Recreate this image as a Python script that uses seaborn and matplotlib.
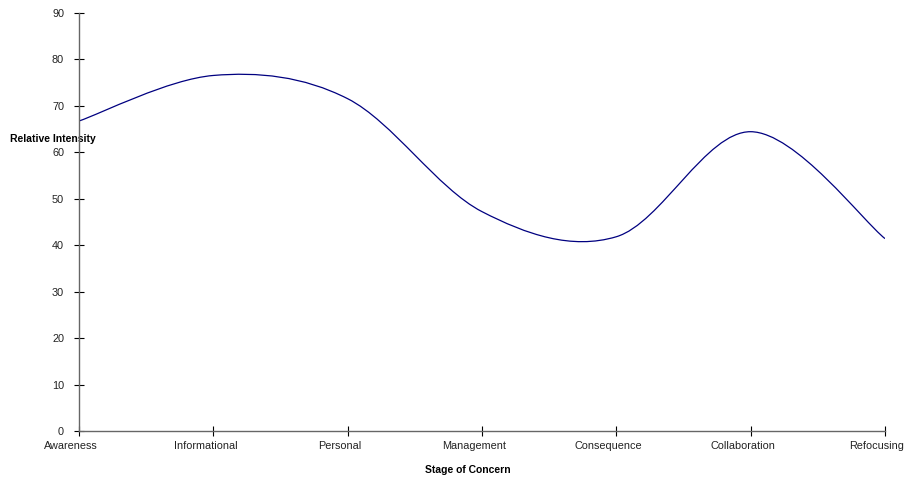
import matplotlib
matplotlib.use("Agg")
import matplotlib.pyplot as plt
import matplotlib.transforms as mtransforms
import seaborn as sns
import pandas as pd
from matplotlib.path import Path
from matplotlib.patches import PathPatch

# valeurs
stages = ["Awareness", "Informational", "Personal", "Management",
          "Consequence", "Collaboration", "Refocusing"]
intensity = [66.7, 76.5, 71.5, 47.2, 41.8, 64.4, 41.4]
y_ticks = [0, 10, 20, 30, 40, 50, 60, 70, 80, 90]

df = pd.DataFrame({"stage": stages, "intensity": intensity})

sns.set_style("ticks")
plt.rcParams["font.family"] = ["Liberation Sans", "DejaVu Sans"]
plt.rcParams["text.color"] = "black"
plt.rcParams["axes.labelcolor"] = "black"

fig = plt.figure(figsize=(9.06, 4.78), dpi=100)
ax = fig.add_axes([0.0872, 0.0983, 0.8896, 0.8751])

# points invisibles pour poser l'axe catégoriel
sns.lineplot(data=df, x="stage", y="intensity", ax=ax, linewidth=0, sort=False)

# courbe lissée (bezier, comme la ligne lissée d'Excel)
xs = list(range(len(stages)))
pts = list(zip(xs, intensity))
verts = [pts[0]]
codes = [Path.MOVETO]
for i in range(len(pts) - 1):
    p0 = pts[i - 1] if i > 0 else pts[i]
    p1 = pts[i]
    p2 = pts[i + 1]
    p3 = pts[i + 2] if i + 2 < len(pts) else pts[i + 1]
    c1 = (p1[0] + (p2[0] - p0[0]) / 6, p1[1] + (p2[1] - p0[1]) / 6)
    c2 = (p2[0] - (p3[0] - p1[0]) / 6, p2[1] - (p3[1] - p1[1]) / 6)
    verts += [c1, c2, p2]
    codes += [Path.CURVE4] * 3
ax.add_patch(PathPatch(Path(verts, codes), fill=False, edgecolor="#000080", lw=0.9))

ax.set_xlim(0, len(stages) - 1)
ax.set_ylim(0, 90)
ax.set_yticks(y_ticks)
ax.set_xticks(xs)
ax.set_xticklabels(stages)

sns.despine(ax=ax)
for s in ["left", "bottom"]:
    ax.spines[s].set_color("#666666")
    ax.spines[s].set_linewidth(1.0)
ax.tick_params(direction="inout", length=6.5, width=0.8, color="black",
               labelsize=7.8, labelcolor="#222222")
ax.tick_params(axis="y", pad=7.5)
ax.tick_params(axis="x", pad=4)

# labels x un peu décalés vers la gauche, comme dans Excel
shift = mtransforms.ScaledTranslation(-8 / 100, 0, fig.dpi_scale_trans)
for lab in ax.get_xticklabels():
    lab.set_transform(lab.get_transform() + shift)

ax.set_xlabel("Stage of Concern", fontsize=7.5, fontweight="bold")
ax.xaxis.set_label_coords(0.4826, -0.093)
ax.xaxis.label.set_va("center")
ax.set_ylabel("Relative Intensity", fontsize=7.5, fontweight="bold",
              rotation=0, ha="left", va="center")
ax.yaxis.set_label_coords(-0.0856, 0.698)

fig.savefig("out.png", dpi=100)
